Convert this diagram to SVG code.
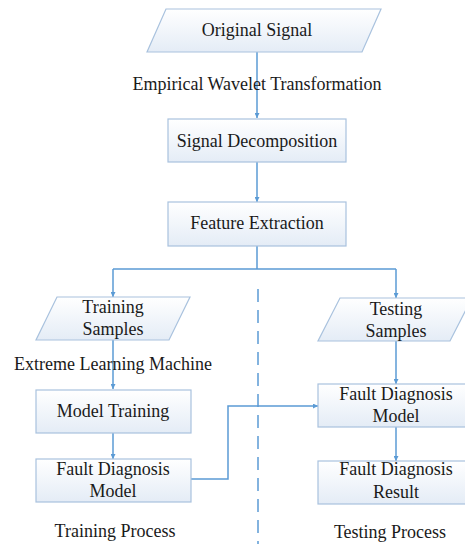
<svg xmlns="http://www.w3.org/2000/svg" width="465" height="544" viewBox="0 0 465 544">
<defs>
<linearGradient id="g" x1="0" y1="0" x2="0" y2="1">
<stop offset="0" stop-color="#ffffff"/>
<stop offset="1" stop-color="#e4ecf6"/>
</linearGradient>
<marker id="ah" viewBox="0 0 10 10" refX="10" refY="5" markerWidth="5" markerHeight="5" orient="auto" markerUnits="userSpaceOnUse">
<path d="M0,0 L10,5 L0,10 z" fill="#5b9bd5"/>
</marker>
<style>
.n{fill:url(#g);stroke:#a9c2de;stroke-width:1.2}
.t{font-size:18px;fill:#1a1a1a;text-anchor:middle}
.c{fill:none;stroke:#5b9bd5;stroke-width:1.5}
</style>
</defs>
<rect width="465" height="544" fill="#ffffff"/>
<g id="connectors">
<path class="c" d="M257,52 V118" marker-end="url(#ah)"/>
<path class="c" d="M257,162 V202" marker-end="url(#ah)"/>
<path class="c" d="M257,246 V269 M113,269 H396"/>
<path class="c" d="M113,269 V297" marker-end="url(#ah)"/>
<path class="c" d="M396,269 V298" marker-end="url(#ah)"/>
<path class="c" d="M113,340 V389" marker-end="url(#ah)"/>
<path class="c" d="M113,433 V459" marker-end="url(#ah)"/>
<path class="c" d="M191,479 H228 V406 H318" marker-end="url(#ah)"/>
<path class="c" d="M396,341 V384" marker-end="url(#ah)"/>
<path class="c" d="M396,427 V461" marker-end="url(#ah)"/>
<path class="c" d="M258,289 V544" stroke-dasharray="13,8"/>
</g>
<g font-family="'Liberation Serif', 'Times New Roman', 'DejaVu Serif', serif">
<g id="original-signal">
<polygon class="n" points="166,9 381,9 362,52 147,52"/>
<text class="t" x="257" y="36">Original Signal</text>
</g>
<text class="t" x="257" y="90">Empirical Wavelet Transformation</text>
<g id="signal-decomposition">
<rect class="n" x="168" y="119" width="178" height="43"/>
<text class="t" x="257" y="147">Signal Decomposition</text>
</g>
<g id="feature-extraction">
<rect class="n" x="168" y="202" width="178" height="44"/>
<text class="t" x="257" y="229">Feature Extraction</text>
</g>
<g id="training-samples">
<polygon class="n" points="57,297 190,297 169,340 36,340"/>
<text class="t" x="113" y="313">Training</text>
<text class="t" x="113" y="335">Samples</text>
</g>
<text class="t" x="113" y="370">Extreme Learning Machine</text>
<g id="model-training">
<rect class="n" x="36" y="390" width="155" height="43"/>
<text class="t" x="113" y="417">Model Training</text>
</g>
<g id="fault-diagnosis-model-left">
<rect class="n" x="36" y="459" width="155" height="43"/>
<text class="t" x="113" y="475">Fault Diagnosis</text>
<text class="t" x="113" y="497">Model</text>
</g>
<g id="testing-samples">
<polygon class="n" points="340,298 472,298 450,341 318,341"/>
<text class="t" x="396" y="315">Testing</text>
<text class="t" x="396" y="337">Samples</text>
</g>
<g id="fault-diagnosis-model-right">
<rect class="n" x="318" y="384" width="156" height="43"/>
<text class="t" x="396" y="400">Fault Diagnosis</text>
<text class="t" x="396" y="422">Model</text>
</g>
<g id="fault-diagnosis-result">
<rect class="n" x="318" y="461" width="156" height="43"/>
<text class="t" x="396" y="475">Fault Diagnosis</text>
<text class="t" x="396" y="498">Result</text>
</g>
<text class="t" x="115" y="537">Training Process</text>
<text class="t" x="390" y="538">Testing Process</text>
</g>
</svg>
